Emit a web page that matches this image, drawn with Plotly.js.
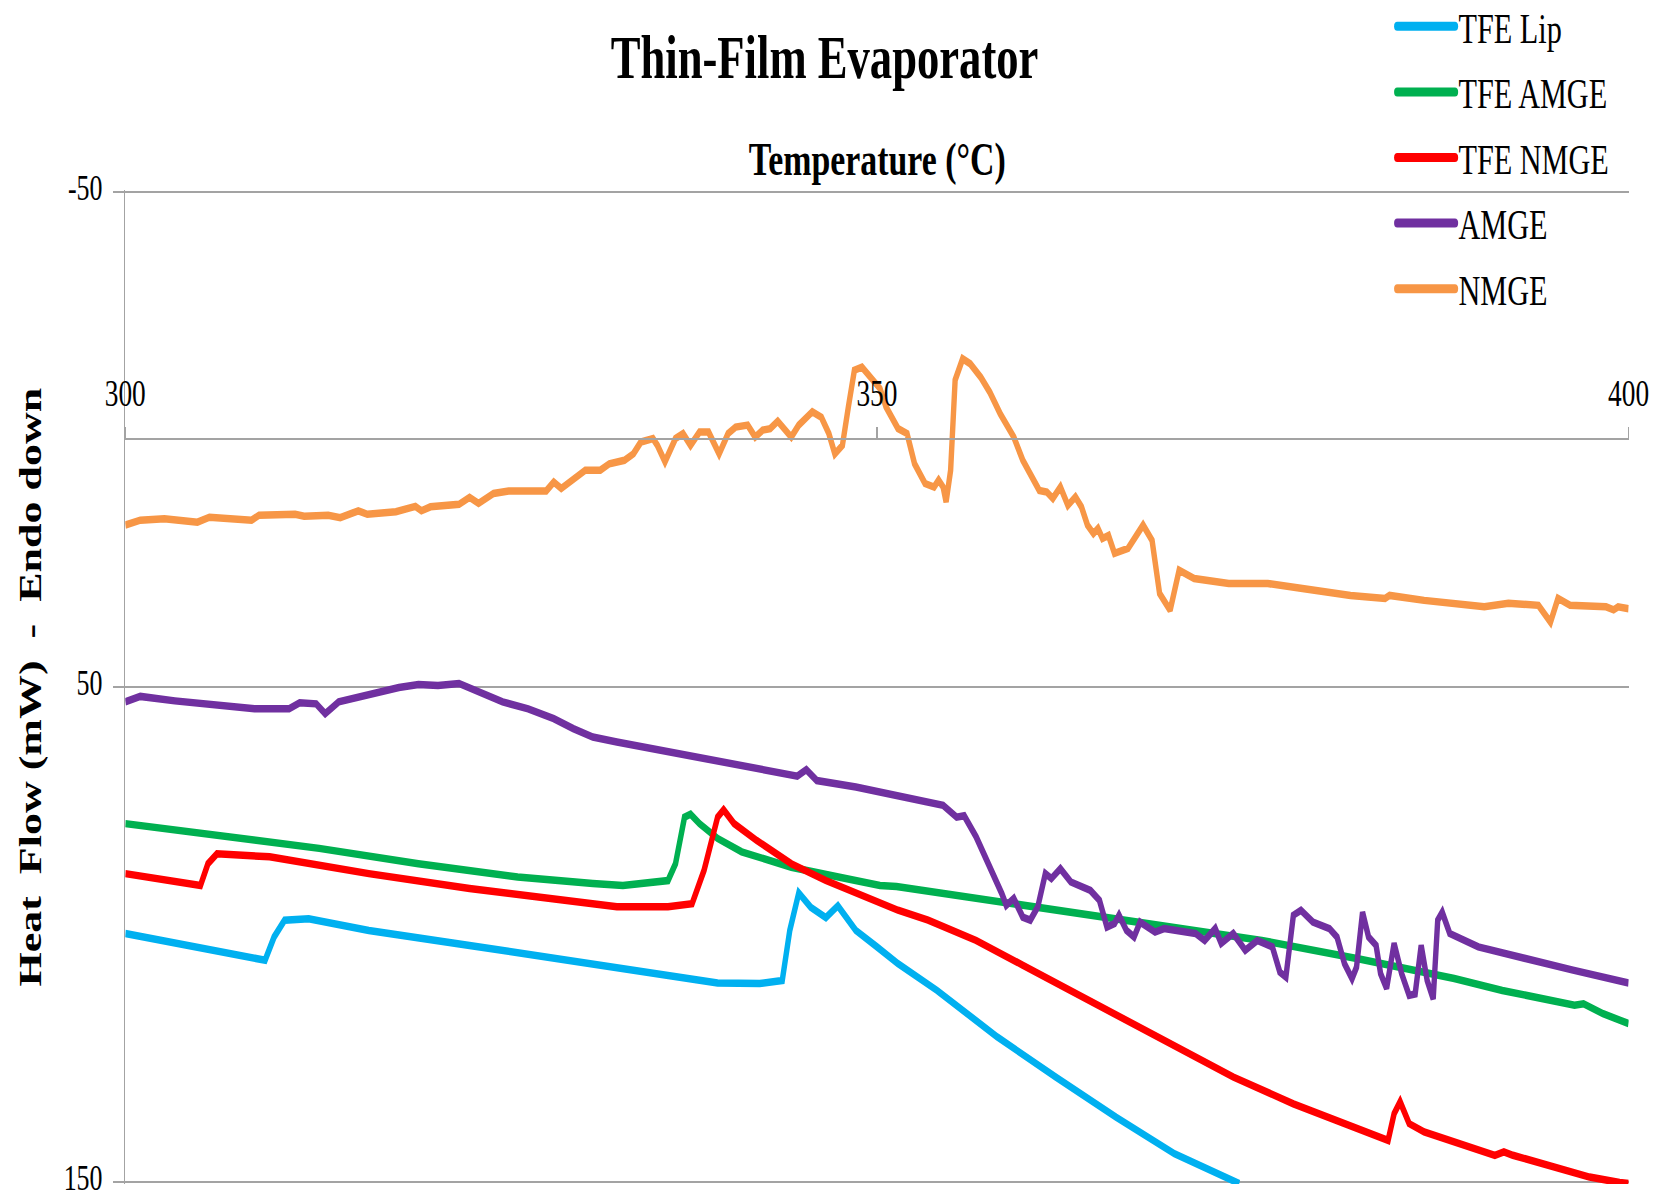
<!DOCTYPE html>
<html>
<head>
<meta charset="utf-8">
<script src="https://cdn.plot.ly/plotly-3.0.1.min.js"></script>
<style>
  html, body { margin: 0; padding: 0; overflow: hidden; background: #ffffff; }
  #frame { width: 1671px; height: 1199px; overflow: hidden; }
  /* the figure is laid out wide and squeezed horizontally for narrow serif lettering */
  #chart { width: 2321px; height: 1199px; transform: scaleX(0.72); transform-origin: 0 0; }
</style>
</head>
<body>
<div id="frame"><div id="chart"></div></div>
<script>
// DSC heat-flow traces, temperature in °C, heat flow in mW (endotherms plotted downward)
const tfeLipT  = [300.0, 304.6, 309.3, 309.9, 310.6, 312.2, 316.2, 322.9, 329.4, 336.1, 339.4, 342.2, 343.7, 344.2, 344.8, 345.6, 346.6, 347.4, 348.6, 350.0, 351.4, 354.0, 358.0, 361.9, 365.9, 369.8, 374.1];
const tfeLipHF = [ 99.8, 102.5, 105.2, 100.5,  97.1,  96.8,  99.2, 102.2, 105.2, 108.2, 109.8, 109.9, 109.3,  99.2,  91.6,  94.5,  96.6,  94.2,  99.2, 102.5, 105.9, 111.3, 120.7, 128.8, 136.9, 144.3, 150.3];

const tfeAmgeT  = [300.0, 306.3, 312.9, 319.5, 326.1, 331.1, 333.1, 336.1, 336.6, 337.2, 337.6, 338.2, 339.4, 341.0, 344.3, 347.6, 350.2, 351.3, 356.6, 362.9, 369.3, 375.6, 382.0, 388.4, 391.6, 394.7, 396.4, 397.0, 398.3, 400.0];
const tfeAmgeHF = [ 77.6,  80.0,  82.6,  85.7,  88.4,  89.7,  90.1,  89.1,  85.7,  76.3,  75.7,  77.6,  80.6,  83.3,  86.4,  88.5,  90.1,  90.3,  92.7,  95.8,  98.5, 101.2, 104.9, 108.9, 111.3, 113.3, 114.3, 114.0, 116.0, 118.0];

const tfeNmgeT  = [300.0, 303.0, 305.0, 305.5, 306.1, 309.6, 316.2, 322.9, 329.4, 332.7, 336.1, 337.7, 338.5, 339.4, 339.8, 340.5, 342.0, 344.3, 346.6, 349.3, 351.4, 353.4, 356.6, 359.7, 362.9, 365.2, 369.8, 373.7, 377.7, 381.6, 384.0, 384.4, 384.8, 385.4, 386.4, 391.1, 391.7, 392.3, 397.4, 399.4, 400.0];
const tfeNmgeHF = [ 87.7,  89.1,  90.1,  85.7,  83.7,  84.3,  87.7,  90.7,  93.4,  94.4,  94.4,  93.8,  87.0,  76.3,  74.8,  77.6,  81.0,  85.7,  89.1,  92.4,  95.1,  97.1, 101.2, 106.2, 111.3, 115.0, 122.7, 128.8, 134.2, 138.6, 141.6, 136.2, 133.8, 138.2, 139.9, 144.6, 143.9, 144.6, 149.0, 150.1, 150.3];

const amgeT  = [300.0, 301.0, 303.3, 306.3, 308.6, 310.9, 311.6, 312.7, 313.3, 314.2, 315.9, 318.2, 319.5, 320.8, 322.2, 323.5, 325.1, 326.8, 328.5, 329.8, 331.1, 332.7, 336.1, 339.4, 342.7, 344.7, 345.3, 346.0, 348.6, 350.2, 352.1, 354.4, 355.3, 355.8, 356.6, 357.2, 357.8, 358.3, 358.6, 359.1, 359.7, 360.2, 360.7, 361.2, 361.6, 362.2, 362.9, 364.2, 364.8, 365.3, 365.8, 366.1, 366.6, 367.1, 367.5, 368.5, 369.1, 370.2, 371.2, 371.8, 372.5, 372.9, 373.7, 374.5, 375.3, 376.3, 376.8, 377.2, 377.7, 378.2, 379.0, 380.1, 380.6, 381.1, 381.6, 381.9, 382.3, 382.7, 383.2, 383.5, 383.9, 384.4, 384.9, 385.4, 385.8, 386.2, 386.6, 387.0, 387.3, 387.6, 388.1, 390.0, 393.1, 396.3, 400.0];
const amgeHF = [ 53.0,  51.9,  52.8,  53.7,  54.4,  54.4,  53.2,  53.4,  55.4,  53.0,  51.7,  50.1,  49.5,  49.7,  49.3,  51.0,  53.0,  54.4,  56.4,  58.4,  60.1,  61.1,  63.1,  65.0,  66.8,  68.0,  66.7,  68.9,  70.2,  71.2,  72.5,  73.9,  76.3,  76.0,  80.3,  84.3,  87.7,  91.7,  94.1,  92.7,  96.5,  97.1,  94.4,  87.7,  88.7,  86.7,  89.4,  91.1,  93.1,  98.5,  97.8,  96.1,  99.2, 100.5,  97.5,  99.5,  98.8,  99.5,  99.8, 101.2,  98.8, 101.8,  99.8, 103.2, 101.2, 102.5, 107.6, 108.6,  96.1,  95.1,  97.5,  98.8, 100.5, 105.9, 108.9, 106.6,  95.5, 100.5, 102.2, 107.9, 110.9, 101.8, 107.9, 112.3, 112.0, 102.2, 109.3, 113.0,  97.1,  95.5,  99.8, 102.5, 104.9, 107.2, 109.8];

const nmgeT  = [300.0, 301.0, 302.6, 304.8, 305.6, 308.4, 308.9, 311.3, 311.9, 313.5, 314.3, 315.5, 316.1, 318.0, 319.3, 319.7, 320.3, 322.2, 322.9, 323.5, 324.5, 325.5, 328.0, 328.5, 329.0, 329.8, 330.6, 331.6, 332.2, 333.2, 333.8, 334.3, 335.1, 335.4, 335.9, 336.6, 337.1, 337.6, 338.2, 338.8, 339.5, 340.1, 340.6, 341.4, 341.9, 342.4, 342.9, 343.4, 343.8, 344.3, 344.8, 345.7, 346.3, 346.8, 347.2, 347.7, 348.1, 348.5, 349.0, 349.6, 350.2, 350.6, 351.4, 352.0, 352.5, 353.2, 353.8, 354.1, 354.4, 354.6, 354.9, 355.2, 355.7, 356.2, 356.9, 357.5, 358.2, 359.1, 359.7, 360.8, 361.3, 361.7, 362.2, 362.7, 363.2, 363.6, 364.0, 364.4, 364.7, 365.0, 365.4, 365.8, 366.7, 367.7, 368.3, 368.8, 369.5, 370.1, 371.1, 373.4, 376.0, 378.3, 381.5, 383.8, 384.1, 386.4, 390.4, 392.0, 394.0, 394.8, 395.3, 396.1, 398.5, 399.0, 399.3, 400.0];
const nmgeHF = [ 17.3,  16.3,  16.0,  16.7,  15.7,  16.3,  15.3,  15.1,  15.5,  15.3,  15.8,  14.4,  15.1,  14.6,  13.5,  14.4,  13.6,  13.1,  11.7,  12.9,  10.9,  10.4,  10.4,   8.6,   9.9,   8.2,   6.2,   6.2,   4.9,   4.2,   2.9,   0.5,  -0.2,   1.2,   4.5,  -0.2,  -1.2,   1.2,  -1.5,  -1.5,   2.9,  -1.2,  -2.5,  -2.9,  -0.5,  -1.9,  -2.2,  -3.7,  -2.2,  -0.5,  -2.9,  -5.6,  -4.5,  -1.2,   2.9,   1.2,  -6.6, -14.0, -14.6, -12.3, -10.3,  -6.6,  -2.2,  -1.2,   4.9,   8.9,   9.6,   8.2,   9.6,  12.6,   6.2, -12.0, -16.3, -15.3, -12.6,  -9.6,  -5.2,  -0.5,   4.2,  10.3,  10.6,  11.9,   9.6,  13.3,  11.6,  13.6,  17.3,  19.0,  18.0,  20.0,  19.4,  23.0,  22.0,  17.3,  20.4,  31.1,  34.5,  26.4,  28.1,  29.1,  29.1,  30.1,  31.5,  32.1,  31.5,  32.5,  33.8,  33.1,  33.5,  36.9,  32.1,  33.5,  33.8,  34.4,  33.8,  34.2];

const seriesNames  = ['TFE Lip', 'TFE AMGE', 'TFE NMGE', 'AMGE', 'NMGE'];
const seriesColors = ['#00b0f0', '#00b050', '#ff0000', '#7030a0', '#f79646'];
const seriesT  = [tfeLipT, tfeAmgeT, tfeNmgeT, amgeT, nmgeT];
const seriesHF = [tfeLipHF, tfeAmgeHF, tfeNmgeHF, amgeHF, nmgeHF];

const xTickVals = [300, 350, 400];
const xTickText = ['300', '350', '400'];
const yTickVals = [-50, 50, 150];
const yTickText = ['-50', '50', '150'];

const chartTitle = 'Thin-Film Evaporator';
const xTitle = 'Temperature (°C)';
const yTitle = 'Heat\u00a0 Flow (mW)\u00a0 -\u00a0 Endo down';

const serif = '"Liberation Serif", "Times New Roman", Times, serif';
const gridGrey = '#a3a3a3';

const traces = seriesNames.map((name, i) => ({
  type: 'scatter',
  mode: 'lines',
  name: name,
  legendgroup: name,
  x: seriesT[i],
  y: seriesHF[i],
  line: { color: seriesColors[i], width: 7.5 },
  hoverinfo: 'skip'
}));

const layout = {
  width: 2321,
  height: 1199,
  margin: { l: 174, r: 59, t: 190, b: 15, autoexpand: false },
  paper_bgcolor: '#ffffff',
  plot_bgcolor: 'rgba(0,0,0,0)',
  font: { family: serif, color: '#000000' },
  showlegend: true,
  title: {
    text: chartTitle,
    font: { family: serif, size: 62, weight: 'bold', color: '#000000' },
    xref: 'container', x: 0.4934, xanchor: 'center',
    yref: 'container', y: 0.953, yanchor: 'middle'
  },
  xaxis: {
    range: [300, 400],
    autorange: false,
    side: 'top',
    anchor: 'free',
    position: 0.749,
    tickvals: xTickVals,
    ticktext: xTickText,
    ticks: 'outside',
    ticklen: 11,
    tickwidth: 2.2,
    tickcolor: gridGrey,
    ticklabelstandoff: 6,
    ticklabeloverflow: 'allow',
    tickfont: { family: serif, size: 38, color: '#000000' },
    showline: true,
    linecolor: gridGrey,
    linewidth: 2,
    showgrid: false,
    zeroline: false,
    fixedrange: true
  },
  yaxis: {
    range: [150.4, -50.4],
    autorange: false,
    tickvals: yTickVals,
    ticktext: yTickText,
    ticks: 'outside',
    ticklen: 14,
    tickwidth: 2,
    tickcolor: gridGrey,
    ticklabelstandoff: 8,
    ticklabelshift: 5,
    ticklabeloverflow: 'allow',
    tickfont: { family: serif, size: 36, color: '#000000' },
    showline: true,
    linecolor: gridGrey,
    linewidth: 2.4,
    showgrid: true,
    gridcolor: gridGrey,
    gridwidth: 2,
    zeroline: false,
    fixedrange: true
  },
  legend: {
    xref: 'container', x: 0.834, xanchor: 'left',
    yref: 'container', y: 1.0, yanchor: 'top',
    bgcolor: 'rgba(0,0,0,0)',
    borderwidth: 0,
    traceorder: 'grouped',
    tracegroupgap: 8,
    itemwidth: 80,
    font: { family: serif, size: 42, color: '#000000' }
  },
  annotations: [
    {
      text: xTitle,
      xref: 'paper', x: 0.5, xanchor: 'center',
      yref: 'paper', y: 1.0312, yanchor: 'middle',
      showarrow: false,
      font: { family: serif, size: 47, weight: 'bold', color: '#000000' }
    },
    {
      text: yTitle,
      textangle: -90,
      xref: 'paper', x: -0.0634, xanchor: 'center',
      yref: 'paper', y: 0.5, yanchor: 'middle',
      showarrow: false,
      font: { family: serif, size: 44, weight: 'bold', color: '#000000' }
    }
  ]
};

Plotly.newPlot('chart', traces, layout, { displayModeBar: false, responsive: false, staticPlot: true })
  .then(function (gd) {
    // thicker, round-capped swatches in the legend
    gd.querySelectorAll('.legend .legendlines path').forEach(function (p) {
      p.style.strokeWidth = '9px';
      p.style.strokeLinecap = 'round';
    });
    // nudge the legend block up against the top edge of the figure
    const lg = gd.querySelector('g.legend');
    if (lg) {
      const m = /translate\(\s*([-\d.eE]+)[ ,]+([-\d.eE]+)\s*\)/.exec(lg.getAttribute('transform') || '');
      if (m) lg.setAttribute('transform', 'translate(' + m[1] + ',' + (parseFloat(m[2]) - 7.5) + ')');
    }
  });
</script>
</body>
</html>
